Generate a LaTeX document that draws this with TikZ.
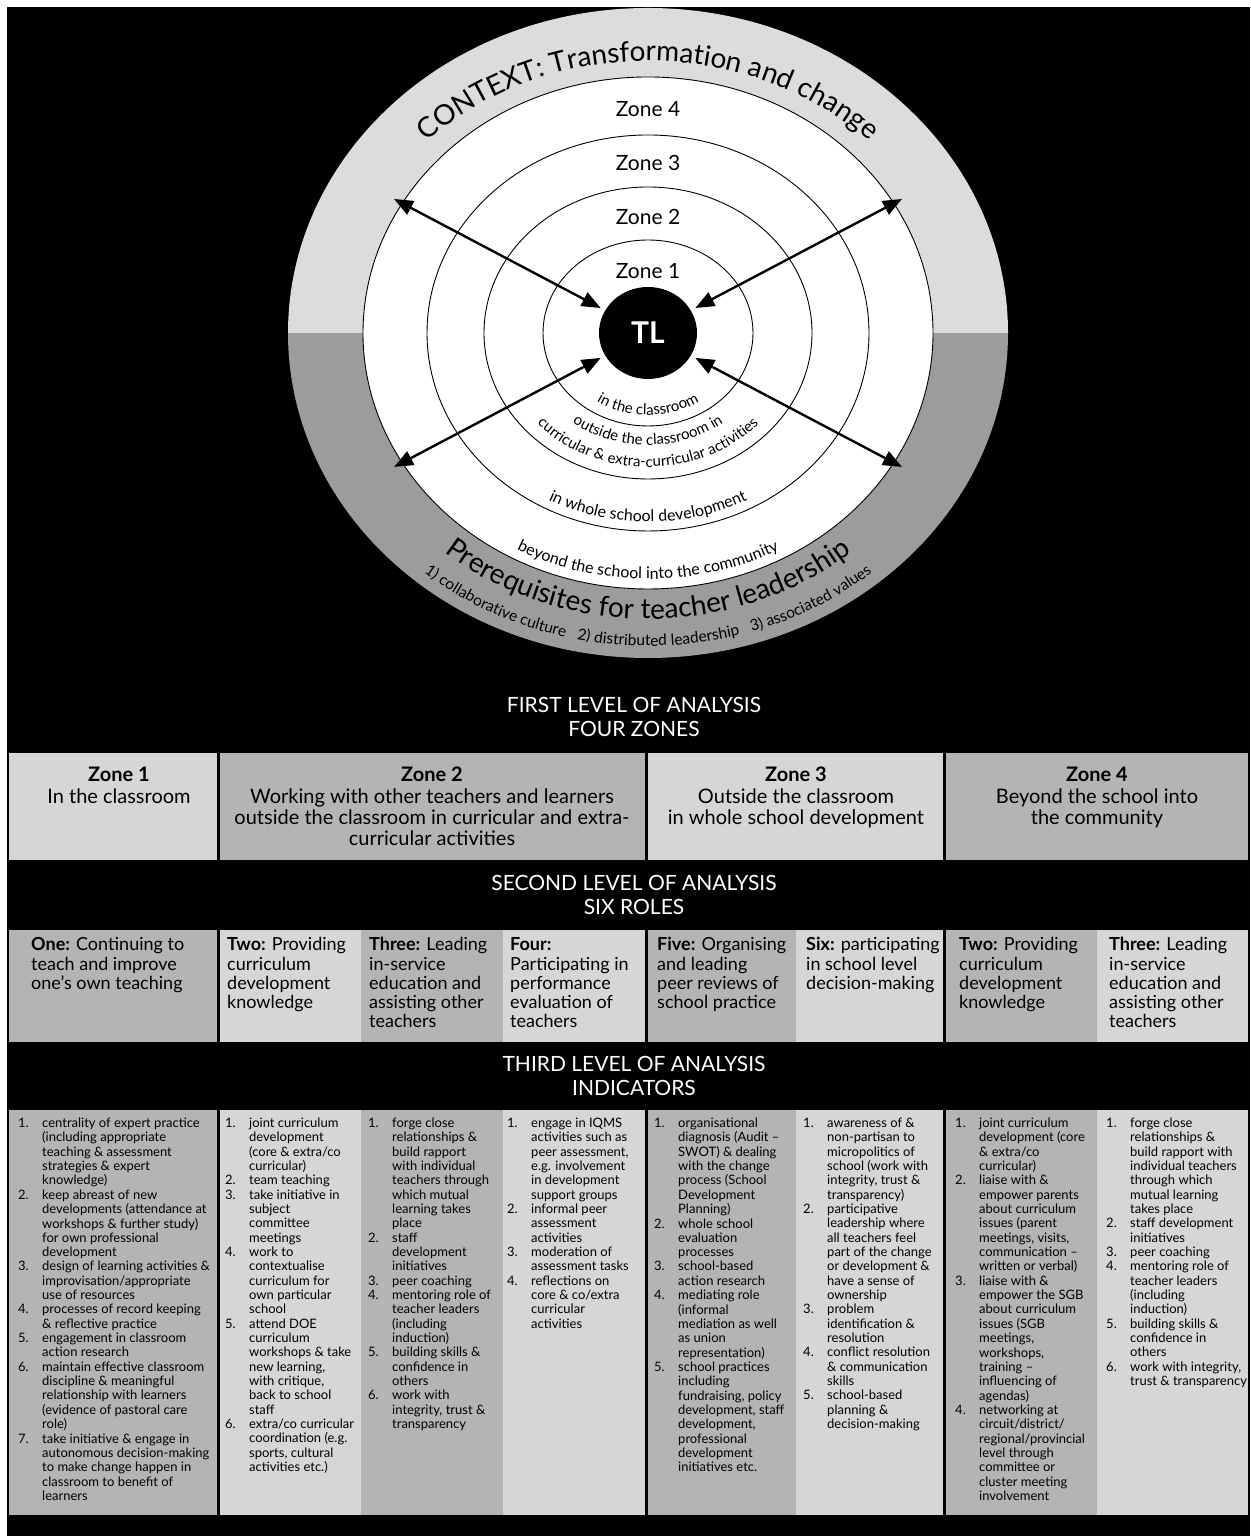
\documentclass[tikz,border=0pt]{standalone}
\usepackage{fontspec}
\setmainfont{Lato}
\usetikzlibrary{arrows.meta,decorations.text,shapes.geometric}

\definecolor{bandlight}{HTML}{DCDCDC}
\definecolor{banddark}{HTML}{9C9C9C}
\definecolor{celllight}{HTML}{D6D6D6}
\definecolor{cellmid}{HTML}{B4B4B4}

\newcommand{\fs}[2]{\fontsize{#1}{#2}\selectfont}
% one numbered item line and one continuation line of an indicator list
\newcommand{\itm}[2]{\makebox[24pt][l]{#1}&#2\\}
\newcommand{\cnt}[1]{&#1\\}

\tikzset{
  zoneline/.style={draw=black,line width=0.9pt,fill=white},
  biarrow/.style={line width=2.4pt,{Triangle[length=19pt,width=15pt]}-{Triangle[length=19pt,width=15pt]},shorten <=5pt},
  header/.style={anchor=base,inner sep=0,text=white,font=\fs{21}{24}},
  zonetxt/.style={anchor=base,inner sep=0,font=\fs{20}{21.3}},
  roletxt/.style={anchor=base west,inner sep=0,font=\fs{18}{19.2}},
  indtxt/.style={anchor=base west,inner sep=0,font=\fs{13}{14.33}},
  ringlabel/.style={anchor=base,inner sep=0,font=\fs{21}{24}},
}

\begin{document}
\begin{tikzpicture}[x=1pt,y=1pt]
\useasboundingbox (0,0) rectangle (1250,1536);
\fill[white] (0,0) rectangle (1250,1536);
\fill[black] (7,0) rectangle (1250,1529);

% ---------- concentric zones ----------
\fill[banddark] (288,1203) arc[start angle=180,end angle=360,x radius=360,y radius=325] -- cycle;
\fill[bandlight] (288,1203) arc[start angle=180,end angle=0,x radius=360,y radius=325] -- cycle;
\draw[zoneline] (648,1203) ellipse[x radius=285,y radius=256];
\draw[zoneline] (648,1203) ellipse[x radius=221,y radius=198];
\draw[zoneline] (648,1203) ellipse[x radius=164,y radius=146];
\draw[zoneline] (648,1203) ellipse[x radius=105,y radius=93];

\node[ringlabel] (z4) at (648,1419) {Zone 4};
\node[ringlabel] (z3) at (648,1365) {Zone 3};
\node[ringlabel] (z2) at (648,1311) {Zone 2};
\node[ringlabel] (z1) at (648,1257) {Zone 1};

% curved captions
\path[decorate,decoration={text along path,text align=center,
  text={|\fs{28}{34}|CONTEXT: Transformation and change}}]
  (336,1203) arc[start angle=180,end angle=0,x radius=312,y radius=272];
\path[decorate,decoration={text along path,text align=center,
  text={|\fs{28}{34}|Prerequisites for teacher leadership}}]
  (331,1203) arc[start angle=180,end angle=360,x radius=317,y radius=286];
\path[decorate,decoration={text along path,text align=center,
  text={|\fs{15.5}{18}|1) collaborative culture{\hspace*{12pt}}2) distributed leadership{\hspace*{12pt}}3) associated values}}]
  (300,1203) arc[start angle=180,end angle=360,x radius=348,y radius=313];
\path[decorate,decoration={text along path,text align=center,
  text={|\fs{15}{18}|in the classroom}}]
  (555,1203) arc[start angle=180,end angle=360,x radius=93,y radius=82];
\path[decorate,decoration={text along path,text align=center,
  text={|\fs{15}{18}|outside the classroom in}}]
  (522,1203) arc[start angle=180,end angle=360,x radius=126,y radius=112];
\path[decorate,decoration={text along path,text align=center,
  text={|\fs{15}{18}|curricular {\&} extra-curricular activities}}]
  (497,1203) arc[start angle=180,end angle=360,x radius=151,y radius=134];
\path[decorate,decoration={text along path,text align=center,
  text={|\fs{16}{18}|in whole school development}}]
  (435,1203) arc[start angle=180,end angle=360,x radius=213,y radius=189];
\path[decorate,decoration={text along path,text align=center,
  text={|\fs{16}{18}|beyond the school into the community}}]
  (371,1203) arc[start angle=180,end angle=360,x radius=277,y radius=246];

% teacher leader hub and its four arrows
\node[ellipse,fill=black,minimum width=98pt,minimum height=92pt,inner sep=0,
      text=white,font=\bfseries\fs{30}{36}] (TL) at (648,1203) {TL};
\coordinate (ul) at (394,1337);
\coordinate (ur) at (902,1337);
\coordinate (ll) at (394,1069);
\coordinate (lr) at (902,1069);
\draw[biarrow] (TL) -- (ul);
\draw[biarrow] (TL) -- (ur);
\draw[biarrow] (TL) -- (ll);
\draw[biarrow] (TL) -- (lr);

% ---------- first level: four zones ----------
\node[header] (h1) at (634,823) {\begin{tabular}[t]{@{}c@{}}FIRST LEVEL OF ANALYSIS\\FOUR ZONES\end{tabular}};

\fill[celllight] (9,676) rectangle (217,783);
\fill[cellmid] (220,676) rectangle (645,783);
\fill[celllight] (648,676) rectangle (943,783);
\fill[cellmid] (946,676) rectangle (1248,783);

\node[zonetxt] (zc1) at (119,754) {\begin{tabular}[t]{@{}c@{}}\textbf{Zone 1}\\In the classroom\end{tabular}};
\node[zonetxt] (zc2) at (432,754) {\begin{tabular}[t]{@{}c@{}}\textbf{Zone 2}\\Working with other teachers and learners\\outside the classroom in curricular and extra-\\curricular activities\end{tabular}};
\node[zonetxt] (zc3) at (796,754) {\begin{tabular}[t]{@{}c@{}}\textbf{Zone 3}\\Outside the classroom\\in whole school development\end{tabular}};
\node[zonetxt] (zc4) at (1097,754) {\begin{tabular}[t]{@{}c@{}}\textbf{Zone 4}\\Beyond the school into\\the community\end{tabular}};

% ---------- second level: six roles ----------
\node[header] (h2) at (634,645) {\begin{tabular}[t]{@{}c@{}}SECOND LEVEL OF ANALYSIS\\SIX ROLES\end{tabular}};

\fill[cellmid] (9,494) rectangle (217,606);
\fill[celllight] (220,494) rectangle (361,606);
\fill[cellmid] (361,494) rectangle (503,606);
\fill[celllight] (503,494) rectangle (645,606);
\fill[cellmid] (648,494) rectangle (796,606);
\fill[celllight] (796,494) rectangle (943,606);
\fill[cellmid] (946,494) rectangle (1097,606);
\fill[celllight] (1097,494) rectangle (1248,606);

\node[roletxt] (r1) at (31,585) {\begin{tabular}[t]{@{}l@{}}\textbf{One:} Continuing to\\teach and improve\\one’s own teaching\end{tabular}};
\node[roletxt] (r2) at (227,585) {\begin{tabular}[t]{@{}l@{}}\textbf{Two:} Providing\\curriculum\\development\\knowledge\end{tabular}};
\node[roletxt] (r3) at (369,585) {\begin{tabular}[t]{@{}l@{}}\textbf{Three:} Leading\\in-service\\education and\\assisting other\\teachers\end{tabular}};
\node[roletxt] (r4) at (510,585) {\begin{tabular}[t]{@{}l@{}}\textbf{Four:}\\Participating in\\performance\\evaluation of\\teachers\end{tabular}};
\node[roletxt] (r5) at (657,585) {\begin{tabular}[t]{@{}l@{}}\textbf{Five:} Organising\\and leading\\peer reviews of\\school practice\end{tabular}};
\node[roletxt] (r6) at (806,585) {\begin{tabular}[t]{@{}l@{}}\textbf{Six:} participating\\in school level\\decision-making\end{tabular}};
\node[roletxt] (r7) at (959,585) {\begin{tabular}[t]{@{}l@{}}\textbf{Two:} Providing\\curriculum\\development\\knowledge\end{tabular}};
\node[roletxt] (r8) at (1109,585) {\begin{tabular}[t]{@{}l@{}}\textbf{Three:} Leading\\in-service\\education and\\assisting other\\teachers\end{tabular}};

% ---------- third level: indicators ----------
\node[header] (h3) at (634,464) {\begin{tabular}[t]{@{}c@{}}THIRD LEVEL OF ANALYSIS\\INDICATORS\end{tabular}};

\fill[cellmid] (9,21) rectangle (217,426);
\fill[celllight] (220,21) rectangle (361,426);
\fill[cellmid] (361,21) rectangle (503,426);
\fill[celllight] (503,21) rectangle (645,426);
\fill[cellmid] (648,21) rectangle (796,426);
\fill[celllight] (796,21) rectangle (943,426);
\fill[cellmid] (946,21) rectangle (1097,426);
\fill[celllight] (1097,21) rectangle (1248,426);

\node[indtxt] (i1) at (18,408.5) {\begin{tabular}[t]{@{}l@{}l@{}}
\itm{1.}{centrality of expert practice}
\cnt{(including appropriate}
\cnt{teaching \& assessment}
\cnt{strategies \& expert}
\cnt{knowledge)}
\itm{2.}{keep abreast of new}
\cnt{developments (attendance at}
\cnt{workshops \& further study)}
\cnt{for own professional}
\cnt{development}
\itm{3.}{design of learning activities \&}
\cnt{improvisation/appropriate}
\cnt{use of resources}
\itm{4.}{processes of record keeping}
\cnt{\& reflective practice}
\itm{5.}{engagement in classroom}
\cnt{action research}
\itm{6.}{maintain effective classroom}
\cnt{discipline \& meaningful}
\cnt{relationship with learners}
\cnt{(evidence of pastoral care}
\cnt{role)}
\itm{7.}{take initiative \& engage in}
\cnt{autonomous decision-making}
\cnt{to make change happen in}
\cnt{classroom to benefit of}
\cnt{learners}
\end{tabular}};

\node[indtxt] (i2) at (225,408.5) {\begin{tabular}[t]{@{}l@{}l@{}}
\itm{1.}{joint curriculum}
\cnt{development}
\cnt{(core \& extra/co}
\cnt{curricular)}
\itm{2.}{team teaching}
\itm{3.}{take initiative in}
\cnt{subject}
\cnt{committee}
\cnt{meetings}
\itm{4.}{work to}
\cnt{contextualise}
\cnt{curriculum for}
\cnt{own particular}
\cnt{school}
\itm{5.}{attend DOE}
\cnt{curriculum}
\cnt{workshops \& take}
\cnt{new learning,}
\cnt{with critique,}
\cnt{back to school}
\cnt{staff}
\itm{6.}{extra/co curricular}
\cnt{coordination (e.g.}
\cnt{sports, cultural}
\cnt{activities etc.)}
\end{tabular}};

\node[indtxt] (i3) at (368,408.5) {\begin{tabular}[t]{@{}l@{}l@{}}
\itm{1.}{forge close}
\cnt{relationships \&}
\cnt{build rapport}
\cnt{with individual}
\cnt{teachers through}
\cnt{which mutual}
\cnt{learning takes}
\cnt{place}
\itm{2.}{staff}
\cnt{development}
\cnt{initiatives}
\itm{3.}{peer coaching}
\itm{4.}{mentoring role of}
\cnt{teacher leaders}
\cnt{(including}
\cnt{induction)}
\itm{5.}{building skills \&}
\cnt{confidence in}
\cnt{others}
\itm{6.}{work with}
\cnt{integrity, trust \&}
\cnt{transparency}
\end{tabular}};

\node[indtxt] (i4) at (507,408.5) {\begin{tabular}[t]{@{}l@{}l@{}}
\itm{1.}{engage in IQMS}
\cnt{activities such as}
\cnt{peer assessment,}
\cnt{e.g. involvement}
\cnt{in development}
\cnt{support groups}
\itm{2.}{informal peer}
\cnt{assessment}
\cnt{activities}
\itm{3.}{moderation of}
\cnt{assessment tasks}
\itm{4.}{reflections on}
\cnt{core \& co/extra}
\cnt{curricular}
\cnt{activities}
\end{tabular}};

\node[indtxt] (i5) at (654,408.5) {\begin{tabular}[t]{@{}l@{}l@{}}
\itm{1.}{organisational}
\cnt{diagnosis (Audit –}
\cnt{SWOT) \& dealing}
\cnt{with the change}
\cnt{process (School}
\cnt{Development}
\cnt{Planning)}
\itm{2.}{whole school}
\cnt{evaluation}
\cnt{processes}
\itm{3.}{school-based}
\cnt{action research}
\itm{4.}{mediating role}
\cnt{(informal}
\cnt{mediation as well}
\cnt{as union}
\cnt{representation)}
\itm{5.}{school practices}
\cnt{including}
\cnt{fundraising, policy}
\cnt{development, staff}
\cnt{development,}
\cnt{professional}
\cnt{development}
\cnt{initiatives etc.}
\end{tabular}};

\node[indtxt] (i6) at (803,408.5) {\begin{tabular}[t]{@{}l@{}l@{}}
\itm{1.}{awareness of \&}
\cnt{non-partisan to}
\cnt{micropolitics of}
\cnt{school (work with}
\cnt{integrity, trust \&}
\cnt{transparency)}
\itm{2.}{participative}
\cnt{leadership where}
\cnt{all teachers feel}
\cnt{part of the change}
\cnt{or development \&}
\cnt{have a sense of}
\cnt{ownership}
\itm{3.}{problem}
\cnt{identification \&}
\cnt{resolution}
\itm{4.}{conflict resolution}
\cnt{\& communication}
\cnt{skills}
\itm{5.}{school-based}
\cnt{planning \&}
\cnt{decision-making}
\end{tabular}};

\node[indtxt] (i7) at (955,408.5) {\begin{tabular}[t]{@{}l@{}l@{}}
\itm{1.}{joint curriculum}
\cnt{development (core}
\cnt{\& extra/co}
\cnt{curricular)}
\itm{2.}{liaise with \&}
\cnt{empower parents}
\cnt{about curriculum}
\cnt{issues (parent}
\cnt{meetings, visits,}
\cnt{communication –}
\cnt{written or verbal)}
\itm{3.}{liaise with \&}
\cnt{empower the SGB}
\cnt{about curriculum}
\cnt{issues (SGB}
\cnt{meetings,}
\cnt{workshops,}
\cnt{training –}
\cnt{influencing of}
\cnt{agendas)}
\itm{4.}{networking at}
\cnt{circuit/district/}
\cnt{regional/provincial}
\cnt{level through}
\cnt{committee or}
\cnt{cluster meeting}
\cnt{involvement}
\end{tabular}};

\node[indtxt] (i8) at (1106,408.5) {\begin{tabular}[t]{@{}l@{}l@{}}
\itm{1.}{forge close}
\cnt{relationships \&}
\cnt{build rapport with}
\cnt{individual teachers}
\cnt{through which}
\cnt{mutual learning}
\cnt{takes place}
\itm{2.}{staff development}
\cnt{initiatives}
\itm{3.}{peer coaching}
\itm{4.}{mentoring role of}
\cnt{teacher leaders}
\cnt{(including}
\cnt{induction)}
\itm{5.}{building skills \&}
\cnt{confidence in}
\cnt{others}
\itm{6.}{work with integrity,}
\cnt{trust \& transparency}
\end{tabular}};
\end{tikzpicture}
\end{document}
